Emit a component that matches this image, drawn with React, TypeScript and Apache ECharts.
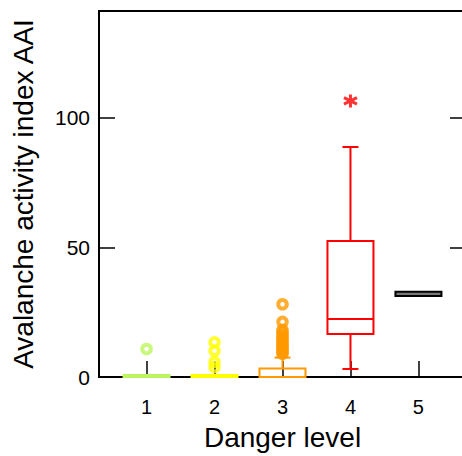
import React, { useEffect, useRef } from "react";
import * as echarts from "echarts";

const levels = [1, 2, 3, 4, 5];
const levelColors = ["#bdf55c", "#ffff00", "#ff9900", "#ff0000", "#000000"];
const boxFills = ["none", "none", "none", "none", "#777777"];
const whiskerLow = [0, 0, 0, 3.1, 31.3];
const quartile1 = [0, 0, 0, 16.6, 31.3];
const medians = [0, 0, 0, 22.4, 32.05];
const quartile3 = [0.8, 0.8, 3.3, 52.5, 32.9];
const whiskerHigh = [0.8, 0.8, 7.5, 88.8, 32.9];

const outliers1 = [10.8];
const outliers2 = [13.4, 10.1, 5.8, 3.8];
const outliers3 = [28.1, 21.3, 18.2, 17.2, 16.3, 15.4, 14.6, 13.8, 13.0, 12.3, 11.6, 10.9, 10.2, 9.5, 8.9];
const extremes4 = [106.6];

const yTicks = [0, 50, 100];
const FONT = "'Liberation Sans', Arial, Helvetica, sans-serif";

export default function App() {
  const ref = useRef<HTMLDivElement>(null);
  useEffect(() => {
    if (!ref.current) return;
    const chart = echarts.init(ref.current, null, { renderer: "svg" });
    const boxData = levels.map((l, i) => [l, whiskerLow[i], quartile1[i], medians[i], quartile3[i], whiskerHigh[i]]);
    const outlierSeries = [outliers1, outliers2, outliers3].map((arr, i) => ({
      type: "scatter",
      data: arr.map((v) => [levels[i], v]),
      symbol: "circle",
      symbolSize: 8.5,
      itemStyle: { color: "rgba(0,0,0,0)", borderColor: levelColors[i], borderWidth: 4 },
      z: 5,
    }));
    chart.setOption({
      animation: false,
      grid: { left: 99, right: 4, top: 11, bottom: 79, show: true, borderColor: "#000", borderWidth: 2 },
      xAxis: {
        type: "value",
        min: 0.3,
        max: 5.7,
        name: "Danger level",
        nameLocation: "middle",
        nameGap: 46,
        nameTextStyle: { fontSize: 28, color: "#000", fontFamily: FONT },
        axisLine: { show: true, lineStyle: { color: "#000", width: 2 } },
        axisTick: { show: true, inside: true, length: 16, customValues: levels, lineStyle: { color: "#000", width: 1.5 } },
        axisLabel: { customValues: levels, fontSize: 20, color: "#000", fontFamily: FONT, margin: 20 },
        splitLine: { show: false },
      },
      yAxis: [
        {
          type: "value",
          min: 0,
          max: 141.3,
          interval: 50,
          name: "Avalanche activity index AAI",
          nameLocation: "middle",
          nameGap: 62,
          nameTextStyle: { fontSize: 28, color: "#000", fontFamily: FONT },
          axisLine: { show: true, lineStyle: { color: "#000", width: 2 } },
          axisTick: { show: true, inside: true, length: 16, customValues: yTicks, lineStyle: { color: "#000", width: 1.5 } },
          axisLabel: { customValues: yTicks, fontSize: 21, color: "#000", fontFamily: FONT, margin: 9 },
          splitLine: { show: false },
        },
        {
          type: "value",
          position: "right",
          min: 0,
          max: 141.3,
          interval: 50,
          axisLine: { show: true, lineStyle: { color: "#000", width: 2 } },
          axisTick: { show: true, inside: true, length: 16, customValues: yTicks, lineStyle: { color: "#000", width: 1.5 } },
          axisLabel: { show: false },
          splitLine: { show: false },
        },
      ],
      series: [
        {
          type: "custom",
          data: boxData,
          z: 3,
          renderItem: (params: any, api: any) => {
            const i = params.dataIndex;
            const x = api.value(0);
            const lo = api.value(1);
            const b1 = api.value(2);
            const md = api.value(3);
            const b3 = api.value(4);
            const hi = api.value(5);
            const color = levelColors[i];
            const cx = api.coord([x, 0])[0];
            const yLo = api.coord([x, lo])[1];
            const y1 = api.coord([x, b1])[1];
            const yM = api.coord([x, md])[1];
            const y3 = api.coord([x, b3])[1];
            const yHi = api.coord([x, hi])[1];
            const halfW = 23;
            const capHalf = 8;
            const style = { stroke: color, lineWidth: 2, fill: "none" };
            const children: any[] = [];
            if (hi > b3) {
              children.push({ type: "line", shape: { x1: cx, y1: y3, x2: cx, y2: yHi }, style });
              children.push({ type: "line", shape: { x1: cx - capHalf, y1: yHi, x2: cx + capHalf, y2: yHi }, style });
            }
            if (lo < b1) {
              children.push({ type: "line", shape: { x1: cx, y1: y1, x2: cx, y2: yLo }, style });
              children.push({ type: "line", shape: { x1: cx - capHalf, y1: yLo, x2: cx + capHalf, y2: yLo }, style });
            }
            children.push({
              type: "rect",
              shape: { x: cx - halfW, y: y3, width: halfW * 2, height: y1 - y3 },
              style: { stroke: color, lineWidth: 2, fill: boxFills[i] },
            });
            if (boxFills[i] === "none") {
              children.push({ type: "line", shape: { x1: cx - halfW, y1: yM, x2: cx + halfW, y2: yM }, style });
            }
            return { type: "group", children };
          },
        },
        ...outlierSeries,
        {
          type: "scatter",
          data: extremes4.map((v) => [levels[3], v]),
          symbol: "path://M6,0L6,12M0.8,3L11.2,9M0.8,9L11.2,3",
          symbolSize: 13,
          itemStyle: { color: "rgba(0,0,0,0)", borderColor: levelColors[3], borderWidth: 3 },
          z: 5,
        },
      ],
    });
    return () => chart.dispose();
  }, []);
  return (
    <div style={{ position: "fixed", left: 0, top: 0, width: 462, height: 456, overflow: "hidden", background: "#fff" }}>
      <div ref={ref} style={{ width: 470, height: 456 }} />
    </div>
  );
}
